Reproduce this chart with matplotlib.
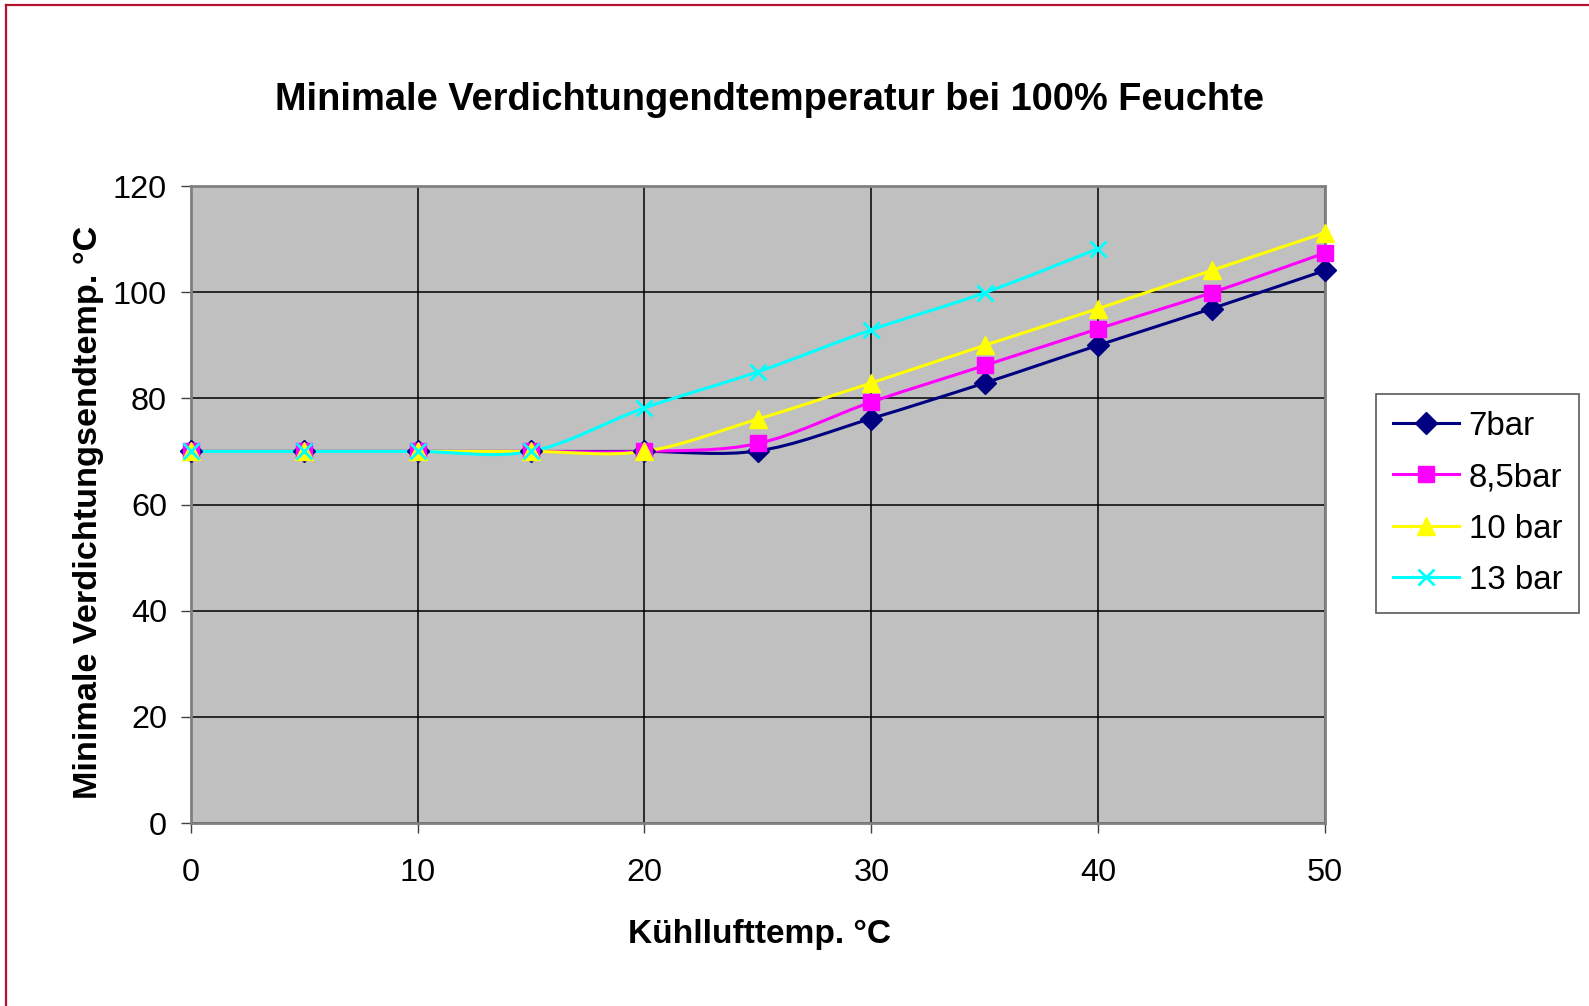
import matplotlib.pyplot as plt
from matplotlib.path import Path
from matplotlib.patches import PathPatch
from matplotlib.lines import Line2D
import numpy as np

plt.rcParams['font.family'] = ['Liberation Sans', 'DejaVu Sans']

# Kühllufttemperatur in °C
kuehlluft = [0, 5, 10, 15, 20, 25, 30, 35, 40, 45, 50]
kuehlluft_13 = [0, 5, 10, 15, 20, 25, 30, 35, 40]

# minimale Verdichtungsendtemperatur in °C je Druck
t_7bar = [70, 70, 70, 70, 70, 70.1, 76.2, 82.9, 90.0, 96.9, 104.1]
t_85bar = [70, 70, 70, 70, 70, 71.5, 79.3, 86.2, 93.1, 99.9, 107.4]
t_10bar = [70, 70, 70, 70, 70, 76.1, 82.9, 90.0, 96.9, 104.1, 111.2]
t_13bar = [70, 70, 70, 70, 78.2, 85.0, 92.9, 99.9, 108.2]

serien = [
    ("7bar", kuehlluft, t_7bar, "#000080", "D", 11),
    ("8,5bar", kuehlluft, t_85bar, "#ff00ff", "s", 11),
    ("10 bar", kuehlluft, t_10bar, "#ffff00", "^", 13),
    ("13 bar", kuehlluft_13, t_13bar, "#00ffff", "x", 12),
]


def glatte_kurve(x, y):
    # geglättete Linie wie in Excel: Bezier-Segmente mit Catmull-Rom-Stützpunkten
    p = np.column_stack([x, y]).astype(float)
    n = len(p)
    verts = [p[0]]
    codes = [Path.MOVETO]
    for i in range(n - 1):
        p_prev = p[i - 1] if i > 0 else p[i]
        p_next2 = p[i + 2] if i + 2 < n else p[i + 1]
        c1 = p[i] + (p[i + 1] - p_prev) / 6
        c2 = p[i + 1] - (p_next2 - p[i]) / 6
        verts += [c1, c2, p[i + 1]]
        codes += [Path.CURVE4] * 3
    return Path(verts, codes)


fig = plt.figure(figsize=(15.89, 10.06), dpi=100)
ax = fig.add_axes([0.12, 0.1819, 0.7139, 0.6332])
ax.set_facecolor("#c0c0c0")

handles = []
for name, xs, ys, farbe, marker, ms in serien:
    ax.add_patch(PathPatch(glatte_kurve(xs, ys), facecolor="none",
                           edgecolor=farbe, lw=2.2, zorder=3))
    mew = 2 if marker == "x" else 1
    ax.plot(xs, ys, ls="none", marker=marker, ms=ms, color=farbe,
            mew=mew, zorder=4, clip_on=False)
    handles.append(Line2D([], [], color=farbe, lw=2.2, marker=marker,
                          ms=ms, mew=mew, label=name))

ax.set_xlim(0, 50)
ax.set_ylim(0, 120)
ax.set_xticks(range(0, 51, 10))
ax.set_yticks(range(0, 121, 20))
ax.grid(True, color="black", lw=1.1)
ax.set_axisbelow(True)
for s in ax.spines.values():
    s.set_color("#808080")
    s.set_linewidth(2)
ax.tick_params(direction="out", length=7, width=1, color="#404040",
               labelsize=23.4, pad=10)
ax.tick_params(axis="x", pad=18)

fig.text(0.484, 0.901, "Minimale Verdichtungendtemperatur bei 100% Feuchte",
         ha="center", va="center", fontsize=27.4, fontweight="bold")
fig.text(0.478, 0.071, "Kühllufttemp. °C", ha="center", va="center",
         fontsize=24.1, fontweight="bold")
fig.text(0.0555, 0.491, "Minimale Verdichtungsendtemp. °C", ha="center",
         va="center", rotation=90, fontsize=24.7, fontweight="bold")

leg = fig.legend(handles=handles, loc="upper left",
                 bbox_to_anchor=(1376 / 1589, 1 - 394 / 1006),
                 fontsize=23.8, frameon=True, fancybox=False,
                 edgecolor="#303030", handlelength=2.0, handletextpad=0.3,
                 labelspacing=0.62, borderpad=0.5, borderaxespad=0)
leg.get_frame().set_linewidth(1.2)

# Rahmen links und oben
rahmen = "#b8102e"
fig.add_artist(Line2D([6 / 1589, 6 / 1589], [0, 1 - 4.5 / 1006],
                      color=rahmen, lw=1.6))
fig.add_artist(Line2D([6 / 1589, 1], [1 - 4.5 / 1006, 1 - 4.5 / 1006],
                      color=rahmen, lw=1.6))

fig.savefig("out.png", dpi=100)
